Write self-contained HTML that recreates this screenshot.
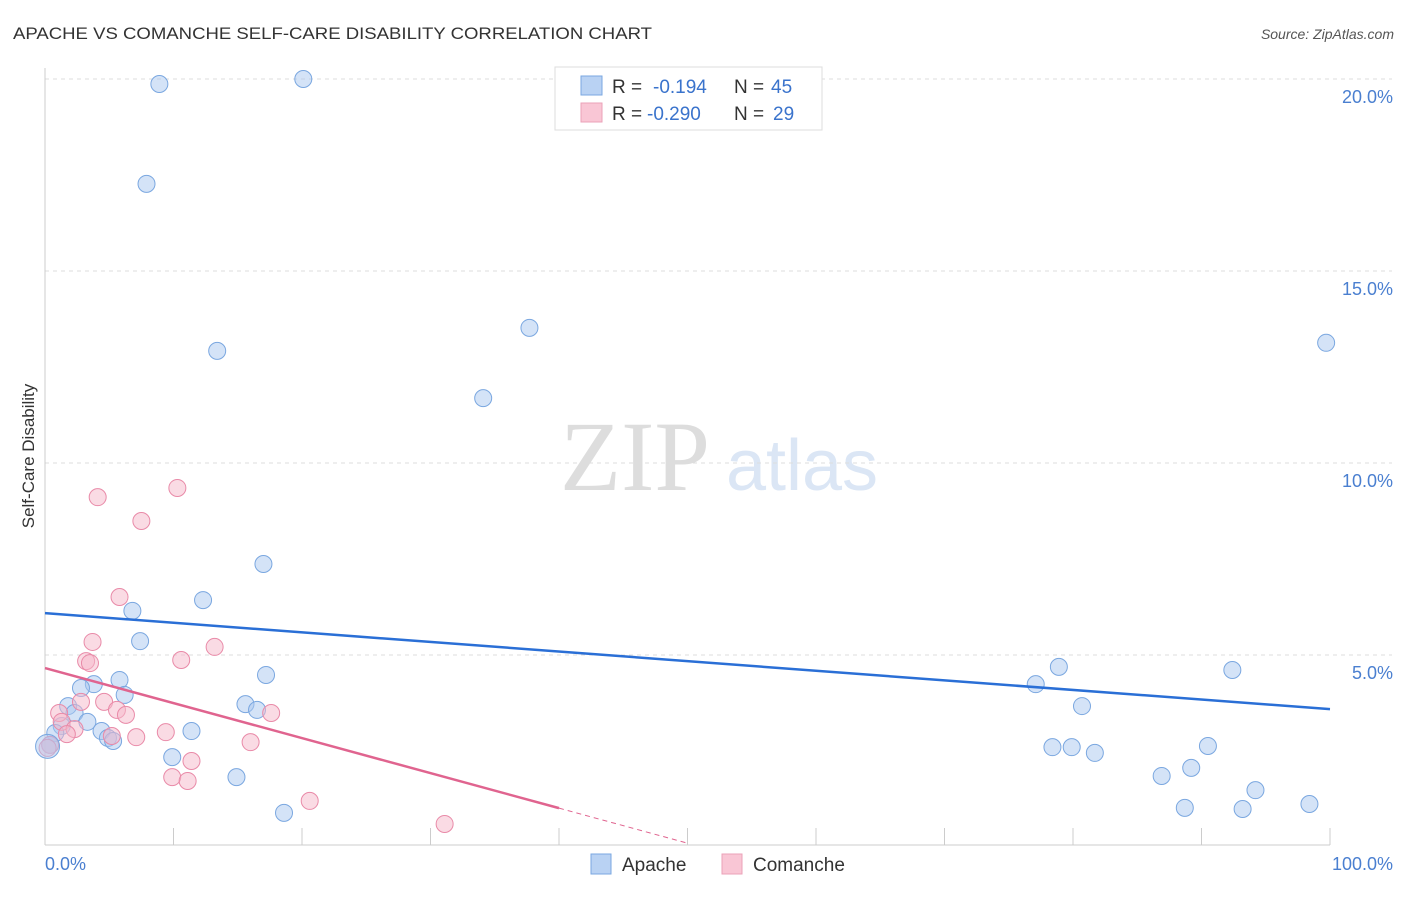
<!DOCTYPE html>
<html><head><meta charset="utf-8"><style>
body{margin:0;background:#fff;font-family:"Liberation Sans",sans-serif;}
</style></head><body>
<svg id="chart" width="1406" height="892" xmlns="http://www.w3.org/2000/svg" font-family="Liberation Sans, sans-serif">
<text x="13" y="39" font-size="17" fill="#333" textLength="639" lengthAdjust="spacingAndGlyphs">APACHE VS COMANCHE SELF-CARE DISABILITY CORRELATION CHART</text>
<text x="1394" y="39" font-size="14" fill="#555" text-anchor="end" font-style="italic">Source: ZipAtlas.com</text>
<text x="635" y="490" font-size="100" fill="#ddd" text-anchor="middle" style="font-family:'Liberation Serif',serif">ZIP</text>
<text x="802" y="490" font-size="72" fill="#dbe6f5" text-anchor="middle">atlas</text>
<text transform="translate(34,456) rotate(-90)" font-size="17" fill="#333" text-anchor="middle">Self-Care Disability</text>
<g id="grid"></g><g id="pts"></g><g id="lines"></g>
<g>
<rect x="555" y="67" width="267" height="63" fill="#fff" stroke="#ddd"/>
<rect x="581" y="76" width="21" height="19" fill="#b9d2f3" stroke="#7aa7e0"/>
<rect x="581" y="103" width="21" height="19" fill="#f9c6d5" stroke="#eba2b8"/>
<text x="612" y="93" font-size="19" fill="#333">R = </text><text x="653" y="93" font-size="19" fill="#3a73cc">-0.194</text>
<text x="734" y="93" font-size="19" fill="#333">N = </text><text x="771" y="93" font-size="19" fill="#3a73cc">45</text>
<text x="612" y="120" font-size="19" fill="#333">R = </text><text x="647" y="120" font-size="19" fill="#3a73cc">-0.290</text>
<text x="734" y="120" font-size="19" fill="#333">N = </text><text x="773" y="120" font-size="19" fill="#3a73cc">29</text>
</g>
<g>
<rect x="591" y="854" width="20" height="20" fill="#b9d2f3" stroke="#7aa7e0"/>
<text x="622" y="871" font-size="19" fill="#333">Apache</text>
<rect x="722" y="854" width="20" height="20" fill="#f9c6d5" stroke="#eba2b8"/>
<text x="753" y="871" font-size="19" fill="#333">Comanche</text>
</g>
</svg>
<script>
const yTicks=[5,10,15,20];
const yTickLabels=["5.0%","10.0%","15.0%","20.0%"];
const xTickLabels=["0.0%","100.0%"];
const apacheX=[8.9,20.1,7.9,13.4,37.7,34.1,99.7,17.0,12.3,6.8,7.4,17.2,5.8,3.8,2.8,6.2,1.8,2.3,15.6,16.5,3.3,1.3,0.8,4.4,11.4,4.9,5.3,0.4,9.9,14.9,18.6,78.9,77.1,92.4,80.7,78.4,79.9,81.7,90.5,86.9,89.2,94.2,88.7,93.2,98.4];
const apacheY=[19.87,20.0,17.27,12.92,13.52,11.69,13.13,7.37,6.43,6.15,5.36,4.48,4.35,4.24,4.14,3.96,3.67,3.49,3.72,3.57,3.26,3.15,2.97,3.02,3.02,2.84,2.76,2.66,2.34,1.82,0.89,4.69,4.24,4.61,3.67,2.60,2.60,2.45,2.63,1.85,2.06,1.48,1.02,0.99,1.12];
const comancheX=[4.1,10.3,7.5,5.8,3.7,13.2,10.6,3.2,3.5,2.8,4.6,1.1,5.6,6.3,17.6,1.3,2.3,1.7,5.2,7.1,9.4,16.0,11.4,9.9,11.1,20.6,31.1,0.4,0.2];
const comancheY=[9.11,9.35,8.49,6.51,5.34,5.21,4.87,4.84,4.79,3.78,3.78,3.49,3.57,3.44,3.49,3.26,3.07,2.94,2.89,2.86,2.99,2.73,2.24,1.82,1.72,1.20,0.60,2.66,2.58];
const apacheTrend=[6.09,3.59];
const comancheTrend=[4.66,-0.0912];
const NS="http://www.w3.org/2000/svg";
const X=v=>45+v*12.85, Y=v=>847-v*38.4;
function mk(tag,attrs,parent){const e=document.createElementNS(NS,tag);for(const k in attrs)e.setAttribute(k,attrs[k]);document.getElementById(parent).appendChild(e);return e;}
yTicks.forEach((t,i)=>{
 let g=mk('line',{x1:45,x2:1392,y1:Y(t),y2:Y(t),stroke:'#ddd','stroke-dasharray':'4,4'},'grid');
 
 
 let l=mk('text',{x:1393,y:Y(t)+24,'font-size':18,fill:'#4a7fd0','text-anchor':'end'},'grid');l.textContent=yTickLabels[i];
 
 
});
mk('line',{x1:45,x2:45,y1:68,y2:845,stroke:'#ccc'},'grid');
let ax=mk('line',{x1:45,x2:1330,y1:845,y2:845,stroke:'#ccc'},'grid');


for(let i=0;i<=10;i++){mk('line',{x1:X(i*10),x2:X(i*10),y1:828,y2:845,stroke:'#ccc'},'grid');}
let xl0=mk('text',{x:45,y:870,'font-size':18,fill:'#4a7fd0'},'grid');xl0.textContent=xTickLabels[0];


let xl1=mk('text',{x:1393,y:870,'font-size':18,fill:'#4a7fd0','text-anchor':'end'},'grid');xl1.textContent=xTickLabels[1];


apacheX.forEach((v,i)=>{
 let c=mk('circle',{cx:X(v),cy:Y(apacheY[i]),r:8.5,fill:'rgba(169,200,240,0.5)',stroke:'#7aa7e0','stroke-width':1},'pts');
 
 
});
comancheX.forEach((v,i)=>{
 let c=mk('circle',{cx:X(v),cy:Y(comancheY[i]),r:8.5,fill:'rgba(245,184,202,0.5)',stroke:'#e98aa8','stroke-width':1},'pts');
 
 
});
let big=mk('circle',{cx:X(0.2),cy:Y(2.62),r:12,fill:'rgba(169,200,240,0.5)',stroke:'#7aa7e0'},'pts');


let bl=mk('line',{x1:X(0),y1:Y(apacheTrend[0]),x2:X(100),y2:Y(apacheTrend[1]),stroke:'#2a6fd6','stroke-width':2.5},'lines');


const pt=x=>comancheTrend[0]+comancheTrend[1]*x;
let pl=mk('line',{x1:X(0),y1:Y(pt(0)),x2:X(40),y2:Y(pt(40)),stroke:'#e0648f','stroke-width':2.5},'lines');


let pd=mk('line',{x1:X(40),y1:Y(pt(40)),x2:X(50),y2:Y(pt(50)),stroke:'#e0648f','stroke-width':1,'stroke-dasharray':'5,4'},'lines');


</script>
</body></html>
